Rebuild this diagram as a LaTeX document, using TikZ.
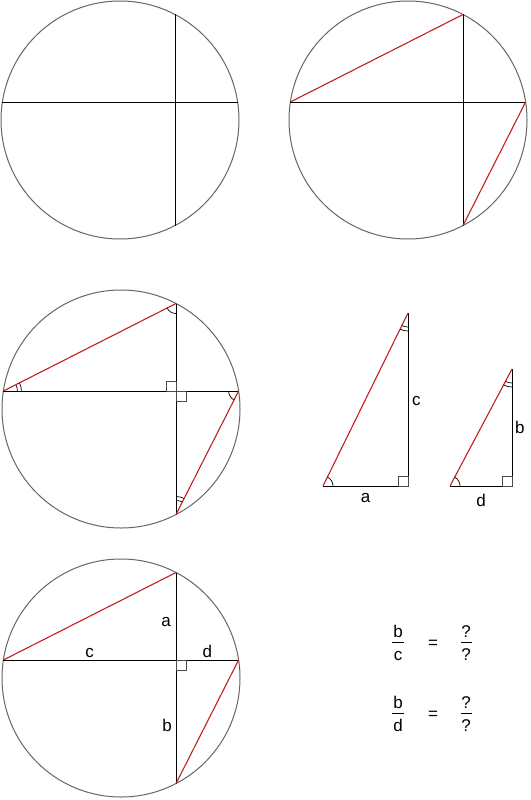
\documentclass[tikz,border=0pt]{standalone}
\usepackage{fontspec}
\setmainfont{Liberation Sans}
\usetikzlibrary{angles,positioning}
\definecolor{chordred}{RGB}{192,32,32}

\begin{document}
\begin{tikzpicture}[x=1pt,y=-1pt,line join=round]
    \tikzstyle{rim}=[draw=black!60,line width=1pt]
    \tikzstyle{chord}=[draw=black,line width=0.9pt]
    \tikzstyle{side}=[draw=chordred,line width=1.1pt]
    \tikzstyle{arcmk}=[draw=black,line width=0.7pt]
    \tikzstyle{sq}=[draw=black!70,line width=0.8pt]
    \tikzstyle{lbl}=[font=\fontsize{17}{20}\selectfont,text height=12pt,text depth=0pt,inner sep=2pt]
    \tikzstyle{fbar}=[fill=black,minimum width=12pt,minimum height=1pt,inner sep=0pt]

    \useasboundingbox (0,0) rectangle (530,800);

    % four circles, each with the same two chords
    \foreach \k/\cx/\cy in {1/120/120, 2/408/120, 3/121/409, 4/121/678} {
        \draw[rim] (\cx,\cy) circle (119pt);
        \coordinate (L-\k) at (\cx-117.6,\cy-18);
        \coordinate (R-\k) at (\cx+117.6,\cy-18);
        \coordinate (T-\k) at (\cx+55,\cy-105.5);
        \coordinate (B-\k) at (\cx+55,\cy+105.5);
        \coordinate (X-\k) at (\cx+55,\cy-18);
        \draw[chord] (L-\k) -- (R-\k);
        \draw[chord] (T-\k) -- (B-\k);
    }

    \foreach \k in {2,3,4} {
        \draw[side] (L-\k) -- (T-\k);
        \draw[side] (R-\k) -- (B-\k);
    }

    % angles in the third circle
    \pic[arcmk,angle radius=10pt] {angle=L-3--T-3--X-3};
    \pic[arcmk,angle radius=10pt] {angle=X-3--R-3--B-3};
    \foreach \r in {14pt,18pt} {
        \pic[arcmk,angle radius=\r] {angle=R-3--L-3--T-3};
        \pic[arcmk,angle radius=\r] {angle=R-3--B-3--X-3};
    }
    \draw[sq] (X-3) rectangle ++(-10,-10);
    \draw[sq] (X-3) rectangle ++(10,10);

    % fourth circle with its lengths
    \draw[sq] (X-4) rectangle ++(10,10);
    \path (T-4) -- node[lbl,pos=0.55,left=3pt] (lbl-a) {a} (X-4);
    \path (X-4) -- node[lbl,pos=0.53,left=2pt] (lbl-b) {b} (B-4);
    \path (L-4) -- node[lbl,above=0pt] (lbl-c) {c} (X-4);
    \path (X-4) -- node[lbl,above=0pt] (lbl-d) {d} (R-4);

    % the two triangles
    \coordinate (P-1) at (323,486);
    \coordinate (Q-1) at (408,486);
    \coordinate (S-1) at (408,313);
    \coordinate (P-2) at (450,486);
    \coordinate (Q-2) at (512,486);
    \coordinate (S-2) at (512,369);
    \foreach \t in {1,2} {
        \draw[chord] (P-\t) -- (Q-\t) -- (S-\t);
        \draw[side] (P-\t) -- (S-\t);
        \draw[sq] (Q-\t) rectangle ++(-10,-10);
        \pic[arcmk,angle radius=10pt] {angle=Q-\t--P-\t--S-\t};
        \foreach \r in {14pt,18pt}
            \pic[arcmk,angle radius=\r] {angle=P-\t--S-\t--Q-\t};
    }
    \path (P-1) -- node[lbl,below=2.5pt] (tri-a) {a} (Q-1);
    \path (Q-1) -- node[lbl,right=2pt] (tri-c) {c} (S-1);
    \path (P-2) -- node[lbl,below=6pt] (tri-d) {d} (Q-2);
    \path (Q-2) -- node[lbl,right=1pt] (tri-b) {b} (S-2);

    % the two ratios
    \foreach \row/\y/\den in {1/642/c, 2/713/d} {
        \node[fbar] (bar-\row) at (398,\y) {};
        \node[lbl,above=1.5pt of bar-\row] (num-\row) {b};
        \node[lbl,below=4pt of bar-\row] (den-\row) {\den};
        \node[lbl] (eq-\row) at (433,\y) {=};
        \node[fbar,minimum width=11pt] (qbar-\row) at (466,\y) {};
        \node[lbl,above=1.5pt of qbar-\row] (qnum-\row) {?};
        \node[lbl,below=4pt of qbar-\row] (qden-\row) {?};
    }
\end{tikzpicture}
\end{document}
